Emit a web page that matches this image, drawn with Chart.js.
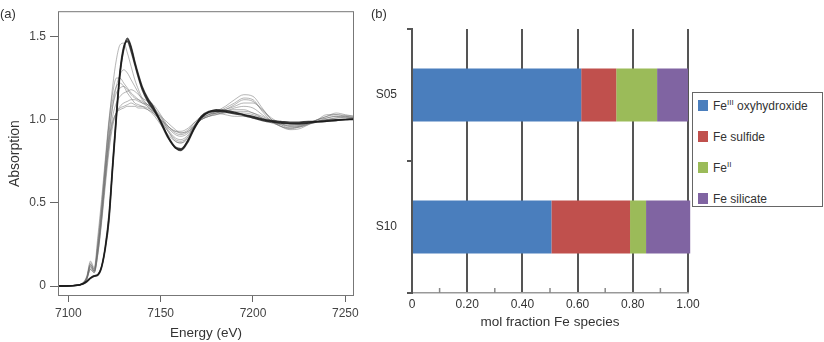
<!DOCTYPE html>
<html>
<head>
<meta charset="utf-8">
<script src="https://cdn.jsdelivr.net/npm/chart.js@4.4.1/dist/chart.umd.min.js"></script>
<style>
  body { margin: 0; background: #fff; font-family: "Liberation Sans", Arial, sans-serif; }
  #wrap { position: relative; width: 824px; height: 342px; overflow: hidden; }
  #chartA { position: absolute; left: 0; top: 0; }
  #chartB { position: absolute; left: 365px; top: 0; }
  .panel { position: absolute; top: 6px; font-size: 13px; color: #333; }
  #legend { position: absolute; left: 692px; top: 92px; width: 131px; height: 115px;
            border: 1.5px solid #666; box-sizing: border-box; background: #fff; }
  .item { position: absolute; left: 5px; height: 16px; line-height: 16px; font-size: 12px;
          color: #333; white-space: nowrap; }
  .sw { display: inline-block; width: 10px; height: 11px; vertical-align: -1px; margin-right: 5px; }
  .sup { font-size: 8px; position: relative; top: -5px; color: #333; }
</style>
</head>
<body>
<div id="wrap">
  <canvas id="chartA" width="365" height="342"></canvas>
  <canvas id="chartB" width="459" height="342"></canvas>
  <div class="panel" style="left:0">(a)</div>
  <div class="panel" style="left:371px">(b)</div>
  <div id="legend"></div>
</div>
<script>
// ---- panel (a): Fe K-edge XANES scans ----
const energy = [7094, 7104, 7108, 7110, 7112, 7114, 7116, 7118, 7120, 7122, 7124, 7126, 7128, 7130, 7132,
  7134, 7136, 7138, 7140, 7143, 7146, 7150, 7154, 7158, 7161, 7165, 7168, 7172, 7176, 7180, 7185,
  7190, 7195, 7200, 7205, 7210, 7215, 7220, 7225, 7230, 7235, 7240, 7245, 7250, 7255];
const energyTicks = [7100, 7150, 7200, 7250];
const absorptionTicks = [0, 0.5, 1.0, 1.5];

// dark (overlapping) scans
const scanD1 = [0, 0.003, 0.012, 0.025, 0.045, 0.058, 0.065, 0.11, 0.22, 0.39, 0.70, 1.00, 1.27, 1.42, 1.48,
  1.43, 1.34, 1.26, 1.19, 1.12, 1.07, 0.98, 0.89, 0.83, 0.82, 0.88, 0.95, 1.02, 1.05, 1.055, 1.05,
  1.04, 1.03, 1.015, 1.0, 0.99, 0.985, 0.98, 0.98, 0.985, 0.988, 0.99, 0.995, 1.0, 1.005];
const scanD2 = [0, 0.004, 0.015, 0.03, 0.05, 0.062, 0.07, 0.12, 0.24, 0.43, 0.74, 1.04, 1.30, 1.44, 1.47,
  1.41, 1.33, 1.25, 1.18, 1.11, 1.06, 0.99, 0.90, 0.835, 0.825, 0.88, 0.945, 1.015, 1.045, 1.05, 1.045,
  1.035, 1.025, 1.01, 0.995, 0.985, 0.98, 0.975, 0.975, 0.98, 0.985, 0.99, 0.995, 1.0, 1.0];
const scanD3 = [0, 0.003, 0.014, 0.028, 0.048, 0.06, 0.068, 0.115, 0.23, 0.41, 0.72, 1.02, 1.28, 1.43, 1.49,
  1.44, 1.35, 1.27, 1.20, 1.13, 1.08, 0.99, 0.895, 0.83, 0.815, 0.87, 0.94, 1.01, 1.045, 1.06, 1.055,
  1.045, 1.03, 1.02, 1.005, 0.995, 0.99, 0.985, 0.985, 0.99, 0.99, 0.995, 1.0, 1.0, 1.005];

// light grey scans
const scanG1 = [0, 0.005, 0.02, 0.06, 0.15, 0.11, 0.30, 0.52, 0.76, 1.00, 1.16, 1.25, 1.25, 1.22, 1.19,
  1.16, 1.14, 1.12, 1.10, 1.08, 1.05, 1.00, 0.95, 0.91, 0.90, 0.92, 0.96, 1.00, 1.02, 1.03, 1.05,
  1.07, 1.08, 1.07, 1.03, 0.99, 0.96, 0.95, 0.96, 0.98, 1.0, 1.01, 1.02, 1.01, 1.01];
const scanG2 = [0, 0.004, 0.018, 0.05, 0.12, 0.09, 0.25, 0.46, 0.70, 0.92, 1.08, 1.16, 1.19, 1.20, 1.18,
  1.15, 1.13, 1.12, 1.11, 1.08, 1.04, 0.99, 0.93, 0.88, 0.87, 0.90, 0.95, 1.00, 1.03, 1.04, 1.06,
  1.09, 1.12, 1.11, 1.06, 1.0, 0.97, 0.95, 0.955, 0.97, 0.99, 1.01, 1.02, 1.015, 1.01];
const scanG3 = [0, 0.004, 0.015, 0.045, 0.10, 0.08, 0.20, 0.40, 0.63, 0.84, 0.98, 1.04, 1.06, 1.07, 1.08,
  1.08, 1.08, 1.07, 1.07, 1.06, 1.04, 1.0, 0.96, 0.93, 0.93, 0.95, 0.98, 1.01, 1.03, 1.05, 1.08,
  1.12, 1.15, 1.14, 1.07, 1.0, 0.96, 0.94, 0.945, 0.97, 1.0, 1.03, 1.03, 1.02, 1.015];
const scanG4 = [0, 0.004, 0.02, 0.05, 0.13, 0.10, 0.24, 0.45, 0.72, 0.98, 1.20, 1.36, 1.45, 1.46, 1.40,
  1.32, 1.24, 1.18, 1.13, 1.09, 1.06, 1.0, 0.93, 0.87, 0.86, 0.90, 0.96, 1.02, 1.04, 1.05, 1.05,
  1.04, 1.04, 1.03, 1.01, 0.99, 0.98, 0.975, 0.975, 0.98, 0.99, 1.0, 1.0, 1.005, 1.01];
const scanG5 = [0, 0.004, 0.016, 0.04, 0.11, 0.085, 0.2, 0.40, 0.64, 0.86, 1.02, 1.10, 1.14, 1.16, 1.17,
  1.18, 1.17, 1.15, 1.13, 1.11, 1.09, 1.03, 0.96, 0.92, 0.91, 0.93, 0.97, 1.0, 1.02, 1.03, 1.04,
  1.05, 1.05, 1.04, 1.01, 0.98, 0.97, 0.96, 0.96, 0.975, 0.99, 1.0, 1.01, 1.01, 1.0];
const scanG6 = [0, 0.004, 0.015, 0.04, 0.10, 0.08, 0.19, 0.38, 0.60, 0.81, 0.96, 1.04, 1.08, 1.10, 1.11,
  1.12, 1.12, 1.11, 1.10, 1.09, 1.06, 1.01, 0.96, 0.93, 0.92, 0.94, 0.98, 1.02, 1.04, 1.05, 1.06,
  1.08, 1.10, 1.10, 1.06, 1.01, 0.98, 0.96, 0.965, 0.98, 1.0, 1.02, 1.04, 1.03, 1.02];
const scanG7 = [0, 0.005, 0.02, 0.055, 0.14, 0.10, 0.27, 0.49, 0.74, 0.97, 1.12, 1.20, 1.22, 1.20, 1.16,
  1.13, 1.10, 1.09, 1.08, 1.06, 1.03, 0.97, 0.91, 0.87, 0.86, 0.89, 0.95, 1.01, 1.04, 1.04, 1.03,
  1.02, 1.02, 1.01, 1.0, 0.99, 0.985, 0.975, 0.97, 0.975, 0.985, 0.995, 1.0, 1.0, 1.0];
const scanG8 = [0, 0.004, 0.017, 0.045, 0.12, 0.09, 0.22, 0.42, 0.66, 0.90, 1.08, 1.20, 1.27, 1.30, 1.28,
  1.24, 1.20, 1.16, 1.12, 1.09, 1.07, 1.02, 0.94, 0.89, 0.88, 0.91, 0.96, 1.01, 1.03, 1.04, 1.05,
  1.06, 1.06, 1.04, 1.02, 0.99, 0.975, 0.965, 0.97, 0.98, 0.99, 1.0, 1.01, 1.02, 1.01];
const scanG9 = [0, 0.004, 0.016, 0.05, 0.13, 0.09, 0.23, 0.44, 0.68, 0.88, 0.99, 1.04, 1.07, 1.08, 1.09,
  1.10, 1.09, 1.08, 1.08, 1.07, 1.05, 1.02, 0.98, 0.94, 0.92, 0.93, 0.96, 1.0, 1.02, 1.04, 1.07,
  1.10, 1.13, 1.12, 1.05, 0.99, 0.96, 0.945, 0.955, 0.975, 1.0, 1.02, 1.03, 1.025, 1.02];

const darkScans = [scanD1, scanD2, scanD3];
const greyScans = [scanG1, scanG2, scanG3, scanG4, scanG5, scanG6, scanG7, scanG8, scanG9];

// ---- panel (b): Fe speciation (mol fraction) ----
const samples = ['S05', 'S10'];
const feIIIOxyhydroxide = [0.613, 0.505];
const feSulfide = [0.127, 0.285];
const feII = [0.148, 0.058];
const feSilicate = [0.112, 0.16];
// [name, superscript, rest]
const speciesNames = [['Fe', 'III', ' oxyhydroxide'], ['Fe sulfide', '', ''], ['Fe', 'II', ''], ['Fe silicate', '', '']];
const speciesColors = ['#4a7ebd', '#c0504d', '#9bbb59', '#8064a2'];
const fractionTicks = [0, 0.1, 0.2, 0.3, 0.4, 0.5, 0.6, 0.7, 0.8, 0.9, 1.0];

Chart.defaults.font.family = '"Liberation Sans", Arial, sans-serif';
Chart.defaults.animation = false;

function toPoints(scan) {
    return scan.map((v, i) => ({ x: energy[i], y: v }));
}

// frame round the plotting area of (a)
const framePlugin = {
    id: 'frame',
    afterDraw(chart) {
        const a = chart.chartArea;
        const ctx = chart.ctx;
        ctx.save();
        ctx.strokeStyle = '#777';
        ctx.lineWidth = 1;
        ctx.strokeRect(a.left + 0.5, a.top + 0.5, a.width - 1, a.height - 1);
        ctx.restore();
    }
};

const xanesSets = [];
darkScans.forEach(s => xanesSets.push({
    data: toPoints(s), borderColor: 'rgba(25,25,25,0.8)', borderWidth: 1.4, order: 0
}));
greyScans.forEach(s => xanesSets.push({
    data: toPoints(s), borderColor: 'rgba(110,110,110,0.5)', borderWidth: 1, order: 1
}));

new Chart(document.getElementById('chartA'), {
    type: 'line',
    data: { datasets: xanesSets },
    options: {
        responsive: false,
        events: [],
        layout: { padding: { top: 3, right: 11, left: 0, bottom: 0 } },
        elements: {
            point: { radius: 0 },
            line: { cubicInterpolationMode: 'monotone', fill: false }
        },
        plugins: { legend: { display: false }, tooltip: { enabled: false } },
        scales: {
            x: {
                type: 'linear',
                min: 7094.4,
                max: 7254.7,
                afterBuildTicks: s => { s.ticks = energyTicks.map(v => ({ value: v })); },
                afterFit: s => { s.height = 46; },
                border: { display: false },
                grid: { drawOnChartArea: false, tickLength: 6, color: '#666' },
                ticks: { color: '#444', font: { size: 12 }, padding: 4, maxRotation: 0,
                         callback: v => String(v) },
                title: { display: true, text: 'Energy (eV)', color: '#333',
                         font: { size: 13.5 }, padding: { top: 0, bottom: 1 } }
            },
            y: {
                min: -0.06,
                max: 1.652,
                afterBuildTicks: s => { s.ticks = absorptionTicks.map(v => ({ value: v })); },
                afterFit: s => { s.width = 58; },
                border: { display: false },
                grid: { drawOnChartArea: false, tickLength: 8, color: '#666' },
                ticks: {
                    color: '#444', font: { size: 12 }, padding: 4,
                    callback: v => v === 0 ? '0' : v.toFixed(1)
                },
                title: { display: true, text: 'Absorption', color: '#333',
                         font: { size: 14 }, padding: { top: 7, bottom: 0 } }
            }
        }
    },
    plugins: [framePlugin]
});

// small upward ticks at the odd tenths of (b)
const minorTickPlugin = {
    id: 'minorTicks',
    afterDraw(chart) {
        const xs = chart.scales.x;
        const a = chart.chartArea;
        const ctx = chart.ctx;
        ctx.save();
        ctx.strokeStyle = '#888';
        ctx.lineWidth = 1.5;
        fractionTicks.forEach((v, i) => {
            if (i % 2 === 1) {
                const px = xs.getPixelForValue(v);
                ctx.beginPath();
                ctx.moveTo(px, a.bottom);
                ctx.lineTo(px, a.bottom - 5);
                ctx.stroke();
            }
        });
        ctx.restore();
    }
};

const speciesValues = [feIIIOxyhydroxide, feSulfide, feII, feSilicate];
const barSets = speciesValues.map((vals, i) => ({
    label: speciesNames[i].join(''),
    data: vals,
    backgroundColor: speciesColors[i],
    barPercentage: 0.4,
    categoryPercentage: 1.0,
    clip: false
}));

const barChart = new Chart(document.getElementById('chartB'), {
    type: 'bar',
    data: { labels: samples, datasets: barSets },
    options: {
        responsive: false,
        events: [],
        indexAxis: 'y',
        layout: { padding: { top: 29, right: 136, left: 0, bottom: 0 } },
        plugins: { legend: { display: false }, tooltip: { enabled: false } },
        scales: {
            x: {
                type: 'linear',
                stacked: true,
                min: 0,
                max: 1,
                afterBuildTicks: s => { s.ticks = fractionTicks.map(v => ({ value: v })); },
                afterFit: s => { s.height = 49; },
                border: { color: '#999', width: 1.5 },
                grid: {
                    drawTicks: false,
                    lineWidth: 2,
                    color: c => {
                        const k = Math.round(c.tick.value * 10);
                        return (k > 0 && k % 2 === 0) ? '#555' : 'rgba(0,0,0,0)';
                    }
                },
                ticks: {
                    autoSkip: false, maxRotation: 0, color: '#333', font: { size: 12 }, padding: 4,
                    callback: v => {
                        const k = Math.round(v * 10);
                        if (k === 0) return '0';
                        return k % 2 === 0 ? (k / 10).toFixed(2) : '';
                    }
                },
                title: { display: true, text: 'mol fraction Fe species', color: '#333',
                         font: { size: 13.5 }, padding: { top: 0, bottom: 12 } }
            },
            y: {
                stacked: true,
                afterFit: s => { s.width = 47; },
                border: { color: '#555', width: 2 },
                grid: { drawOnChartArea: false, offset: true, tickLength: 5, color: '#555', lineWidth: 2 },
                ticks: { color: '#333', font: { size: 12 }, padding: 10 }
            }
        }
    },
    plugins: [minorTickPlugin]
});

// legend with superscripts, built from the datasets
const legend = document.getElementById('legend');
barChart.data.datasets.forEach((ds, i) => {
    const [base, sup, rest] = speciesNames[i];
    const item = document.createElement('div');
    item.className = 'item';
    item.style.top = (5 + 31 * i) + 'px';
    const sw = document.createElement('span');
    sw.className = 'sw';
    sw.style.background = ds.backgroundColor;
    item.appendChild(sw);
    item.appendChild(document.createTextNode(base));
    if (sup) {
        const s = document.createElement('span');
        s.className = 'sup';
        s.textContent = sup;
        item.appendChild(s);
    }
    if (rest) item.appendChild(document.createTextNode(rest));
    legend.appendChild(item);
});
</script>
</body>
</html>
